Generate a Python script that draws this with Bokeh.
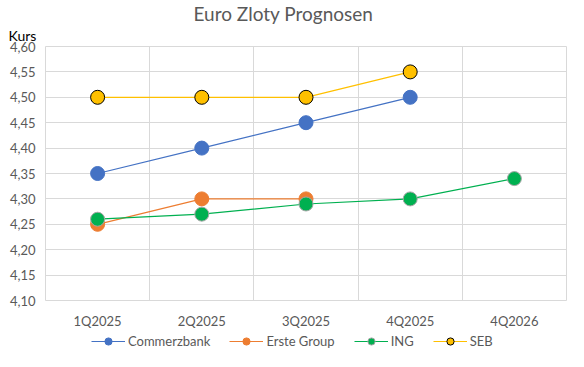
import math
from bokeh.plotting import figure
from bokeh.layouts import column
from bokeh.models import (FixedTicker, Range1d, CustomJSTickFormatter, Title,
                          Legend, LegendItem)
from bokeh.embed import file_html
from bokeh.resources import INLINE

NaN = float("nan")
categories = ["1Q2025", "2Q2025", "3Q2025", "4Q2025", "4Q2026"]
commerzbank = [4.35, 4.40, 4.45, 4.50, NaN]
erste = [4.25, 4.30, 4.30, NaN, NaN]
ing = [4.26, 4.27, 4.29, 4.30, 4.34]
seb = [4.50, 4.50, 4.50, 4.55, NaN]
y_ticks = [4.10, 4.15, 4.20, 4.25, 4.30, 4.35, 4.40, 4.45, 4.50, 4.55, 4.60]

xs = [i + 0.5 for i in range(len(categories))]

FONT = "Lato"
GREY = "#595959"
GRID = "#d9d9d9"

p = figure(width=568, height=331, output_backend="svg", toolbar_location=None,
           x_range=Range1d(0, len(categories)), y_range=Range1d(4.10, 4.60),
           min_border_left=45, min_border_right=2, min_border_top=46,
           min_border_bottom=30)
p.outline_line_color = GRID
p.background_fill_color = "white"
p.border_fill_color = "white"

p.xaxis.ticker = FixedTicker(ticks=xs)
p.xaxis.major_label_overrides = {x: c for x, c in zip(xs, categories)}
p.xgrid.ticker = FixedTicker(ticks=list(range(len(categories) + 1)))
p.yaxis.ticker = FixedTicker(ticks=y_ticks)
p.ygrid.ticker = FixedTicker(ticks=y_ticks)
p.yaxis.formatter = CustomJSTickFormatter(code="return tick.toFixed(2).replace('.', ',');")
for ax in (p.xaxis[0], p.yaxis[0]):
    ax.axis_line_color = None
    ax.major_tick_line_color = None
    ax.minor_tick_line_color = None
    ax.major_tick_out = 0
    ax.major_tick_in = 0
    ax.major_label_text_font = FONT
    ax.major_label_text_font_size = "13px"
    ax.major_label_text_color = GREY
p.xaxis.major_label_standoff = 12
p.yaxis.major_label_standoff = 10
p.xgrid.grid_line_color = GRID
p.ygrid.grid_line_color = GRID

series = [
    ("Commerzbank", commerzbank, "#4472C4", "#4472C4"),
    ("Erste Group", erste, "#ED7D31", "#ED7D31"),
    ("ING", ing, "#00B050", "#A5A5A5"),
    ("SEB", seb, "#FFC000", "#000000"),
]
for name, vals, col, outline in series:
    p.line(xs, vals, line_color=col, line_width=1.2)
    p.scatter(xs, vals, size=14, fill_color=col, line_color=outline,
              line_width=1)

kurs = Title(text="Kurs", align="left", offset=-37, standoff=6,
             text_font=FONT, text_font_size="14px", text_color="#000000",
             text_font_style="normal")
p.add_layout(kurs, "above")
p.title = Title(text="Euro Zloty Prognosen", align="left", offset=148,
                standoff=-6, text_font=FONT, text_font_size="19px",
                text_color=GREY, text_font_style="normal")

# legend strip below the chart (same series, same styling)
q = figure(width=568, height=20, output_backend="svg", toolbar_location=None,
           x_range=Range1d(0, len(categories)), y_range=Range1d(0, 1),
           x_axis_type=None, y_axis_type=None,
           min_border_left=0, min_border_right=0, min_border_top=0,
           min_border_bottom=0)
q.outline_line_color = None
q.grid.visible = False
q.background_fill_color = "white"
q.border_fill_color = "white"
items = []
for name, vals, col, outline in series:
    l = q.line(xs, vals, line_color=col, line_width=1.2)
    s = q.scatter(xs, vals, size=14, fill_color=col, line_color=outline,
                  line_width=1)
    items.append(LegendItem(label=name, renderers=[l, s]))
legend = Legend(items=items, orientation="horizontal", location=(46, 1),
                label_text_font=FONT, label_text_font_size="13px",
                label_text_color=GREY, glyph_width=34, glyph_height=18,
                label_height=18, label_standoff=3, spacing=19, padding=0,
                margin=0, border_line_color=None, background_fill_alpha=0)
q.add_layout(legend, "center")

open("out.html", "w").write(file_html(column(p, q, spacing=0), INLINE))
